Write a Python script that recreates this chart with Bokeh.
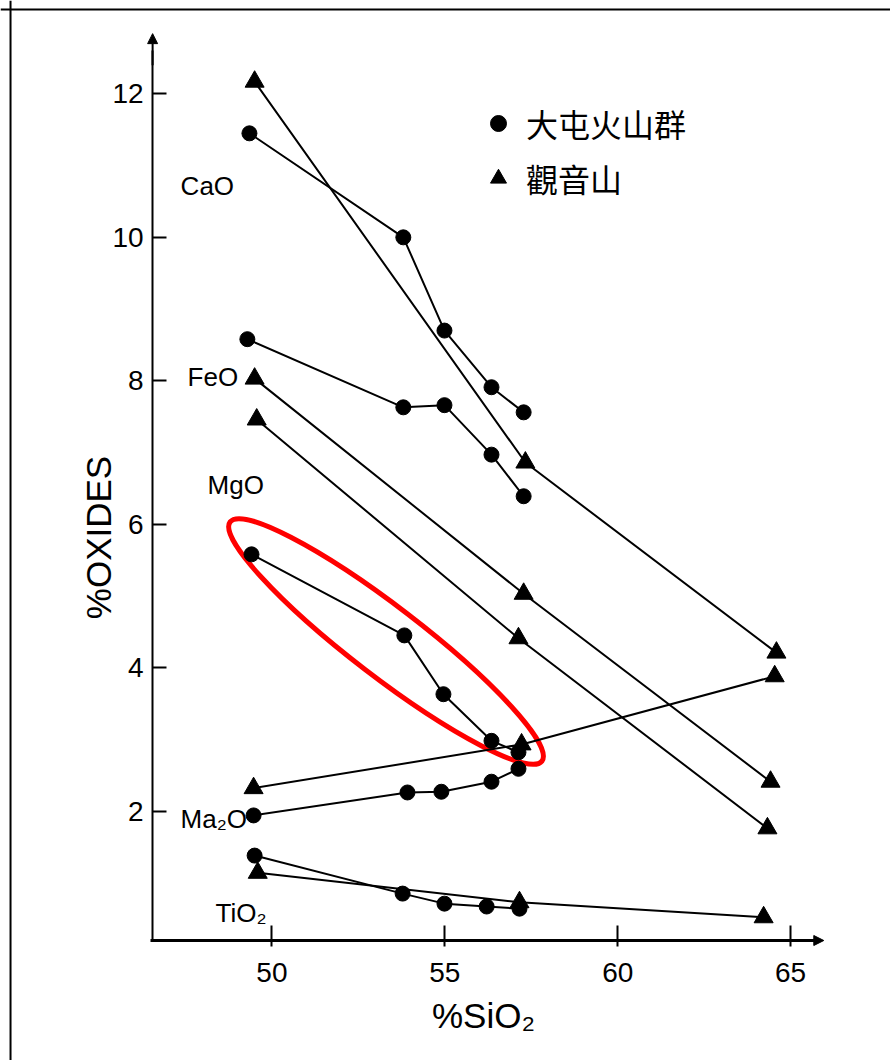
import math
from bokeh.plotting import figure
from bokeh.models import (Range1d, FixedTicker, Label, Legend, LegendItem,
                          Arrow, NormalHead, Span)
from bokeh.embed import file_html
from bokeh.resources import INLINE

# ---------------- data ----------------
# 大屯火山群 (circles)
tatun_cao_sio2 = [49.35, 53.80, 54.99, 56.35, 57.28]
tatun_cao = [11.45, 10.00, 8.70, 7.91, 7.56]
tatun_feo_sio2 = [49.29, 53.80, 54.99, 56.35, 57.28]
tatun_feo = [8.58, 7.63, 7.66, 6.97, 6.39]
tatun_mgo_sio2 = [49.41, 53.83, 54.96, 56.35, 57.13]
tatun_mgo = [5.58, 4.45, 3.63, 2.98, 2.82]
tatun_na2o_sio2 = [49.47, 53.92, 54.90, 56.35, 57.13]
tatun_na2o = [1.94, 2.26, 2.27, 2.41, 2.59]
tatun_tio2_sio2 = [49.50, 53.78, 54.99, 56.21, 57.16]
tatun_tio2 = [1.38, 0.85, 0.71, 0.67, 0.64]

# 觀音山 (triangles)
guanyin_cao_sio2 = [49.50, 57.33, 64.59]
guanyin_cao = [12.17, 6.86, 4.21]
guanyin_feo_sio2 = [49.50, 57.28, 64.42]
guanyin_feo = [8.03, 5.03, 2.41]
guanyin_mgo_sio2 = [49.56, 57.13, 64.33]
guanyin_mgo = [7.46, 4.41, 1.76]
guanyin_na2o_sio2 = [49.47, 57.22, 64.54]
guanyin_na2o = [2.32, 2.93, 3.88]
guanyin_tio2_sio2 = [49.59, 57.16, 64.22]
guanyin_tio2 = [1.14, 0.73, 0.52]

oxide_names = ["CaO", "FeO", "MgO", "Ma\u2082O", "TiO\u2082"]
group_names = ["大屯火山群", "觀音山"]
x_ticks = [50, 55, 60, 65]
y_ticks = [2, 4, 6, 8, 10, 12]
x_title = "%SiO\u2082"
y_title = "%OXIDES"

# ---------------- figure ----------------
p = figure(width=890, height=1060, output_backend="svg", toolbar_location=None,
           x_range=Range1d(42.151, 67.889), y_range=Range1d(-1.477, 13.302),
           min_border_left=0, min_border_right=0, min_border_top=0, min_border_bottom=0)
p.outline_line_color = None
p.xgrid.visible = False
p.ygrid.visible = False
p.background_fill_color = "white"
p.border_fill_color = "white"

# frame of the picture (left and top edges)
p.add_layout(Span(location=42.441, dimension="height", line_color="black", line_width=2))
p.add_layout(Span(location=13.177, dimension="width", line_color="black", line_width=2))

LAB_FONT = "Liberation Sans"

xa = p.xaxis[0]
xa.fixed_location = 0.196
xa.bounds = (46.49, 65.75)
xa.ticker = FixedTicker(ticks=x_ticks)
xa.minor_tick_line_color = None
xa.axis_line_width = 3
xa.major_tick_line_width = 2
xa.major_tick_in = 15
xa.major_tick_out = 6
xa.major_label_standoff = 16
xa.major_label_text_font = LAB_FONT
xa.major_label_text_font_size = "28px"
xa.major_label_text_color = "black"
xa.axis_label = x_title
xa.axis_label_text_font = LAB_FONT
xa.axis_label_text_font_size = "35px"
xa.axis_label_text_font_style = "normal"
xa.axis_label_text_color = "black"
xa.axis_label_standoff = 11

ya = p.yaxis[0]
ya.fixed_location = 46.55
ya.bounds = (0.196, 12.6)
ya.ticker = FixedTicker(ticks=y_ticks)
ya.minor_tick_line_color = None
ya.axis_line_width = 2
ya.major_tick_line_width = 2
ya.major_tick_in = 14
ya.major_tick_out = 0
ya.major_label_standoff = 9
ya.major_label_text_font = LAB_FONT
ya.major_label_text_font_size = "28px"
ya.major_label_text_color = "black"

# arrow heads on the axes
p.add_layout(Arrow(x_start=65.5, y_start=0.196, x_end=65.96, y_end=0.196,
                   line_width=3, line_color="black",
                   end=NormalHead(size=10, fill_color="black", line_color="black")))
p.add_layout(Arrow(x_start=46.55, y_start=12.4, x_end=46.55, y_end=12.84,
                   line_width=2, line_color="black",
                   end=NormalHead(size=10, fill_color="black", line_color="black")))

# y-axis title
p.add_layout(Label(x=44.99, y=5.815, text=y_title, angle=math.pi / 2,
                   text_align="center", text_baseline="alphabetic",
                   text_font=LAB_FONT, text_font_size="35px", text_color="black"))

# red ellipse around the MgO trend
p.ellipse(x=[53.30], y=[4.365], width=393, height=70,
          width_units="screen", height_units="screen",
          angle=-math.radians(37.5), fill_color=None,
          line_color="red", line_width=5)

tatun = [(tatun_cao_sio2, tatun_cao), (tatun_feo_sio2, tatun_feo),
         (tatun_mgo_sio2, tatun_mgo), (tatun_na2o_sio2, tatun_na2o),
         (tatun_tio2_sio2, tatun_tio2)]
guanyin = [(guanyin_cao_sio2, guanyin_cao), (guanyin_feo_sio2, guanyin_feo),
           (guanyin_mgo_sio2, guanyin_mgo), (guanyin_na2o_sio2, guanyin_na2o),
           (guanyin_tio2_sio2, guanyin_tio2)]

circle_r = []
tri_r = []
for xs, ys in guanyin:
    p.line(xs, ys, line_color="black", line_width=2)
for xs, ys in tatun:
    p.line(xs, ys, line_color="black", line_width=2)
for xs, ys in guanyin:
    tri_r.append(p.scatter(xs, ys, marker="triangle", size=19,
                           fill_color="black", line_color="black"))
for xs, ys in tatun:
    circle_r.append(p.scatter(xs, ys, marker="circle", size=15,
                              fill_color="black", line_color="black"))

# oxide names
label_pos = [(47.36, 10.72), (47.56, 8.05), (48.14, 6.55), (47.36, 1.897), (48.37, 0.586)]
for name, (lx, ly) in zip(oxide_names, label_pos):
    p.add_layout(Label(x=lx, y=ly, text=name, text_align="left",
                       text_baseline="alphabetic", text_font=LAB_FONT,
                       text_font_size="26px", text_color="black"))

legend = Legend(items=[LegendItem(label=group_names[0], renderers=[circle_r[0]]),
                       LegendItem(label=group_names[1], renderers=[tri_r[0]])],
                location=(478, 858), orientation="vertical",
                glyph_width=40, glyph_height=48, label_standoff=8, spacing=7,
                padding=0, margin=0, border_line_color=None,
                background_fill_alpha=0,
                label_text_font="Noto Sans CJK TC", label_text_font_size="32px",
                label_text_color="black")
p.add_layout(legend)

open("out.html", "w").write(file_html(p, INLINE))
